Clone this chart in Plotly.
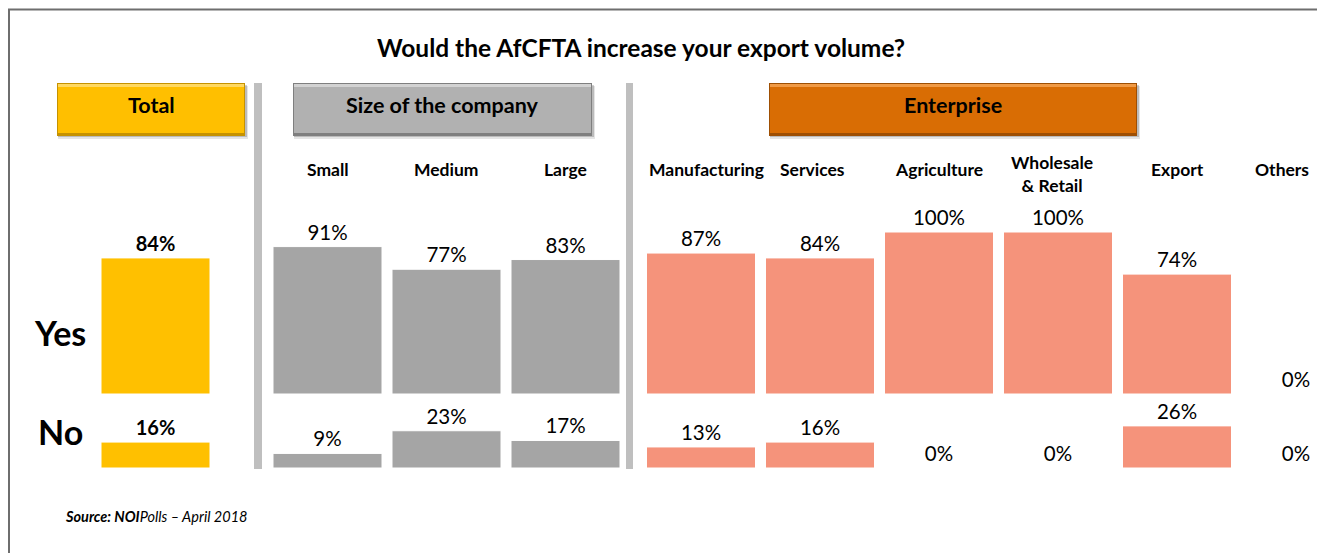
import plotly.graph_objects as go

# ---- survey results (percent) ----
total_cats = ["Total"]
total_yes = [84]
total_no = [16]

size_cats = ["Small", "Medium", "Large"]
size_yes = [91, 77, 83]
size_no = [9, 23, 17]

ent_cats = ["Manufacturing", "Services", "Agriculture", "Wholesale<br>& Retail", "Export", "Others"]
ent_yes = [87, 84, 100, 100, 74, 0]
ent_no = [13, 16, 0, 0, 26, 0]

# ---- canvas ----
W, H = 1317, 553
FONT = "Lato"


def px(x):
    return x / W


def py(y):
    return 1 - y / H


# vertical scale shared by both rows: 1.62 px per percent point
PPP = 1.62
YES_BASE, NO_BASE = 394, 468
YES_TOP, NO_TOP = 115, 30

# horizontal spacing: one category slot = 119 px, bar = 109 px
SLOT = 119
BARGAP = 1 - 109 / SLOT


def slot_domain(first_center, n):
    left = first_center - SLOT / 2
    right = left + n * SLOT
    return left, right


fig = go.Figure()

groups = [
    ("x", total_cats, total_yes, total_no, "#FFC000", True),
    ("x2", size_cats, size_yes, size_no, "#A5A5A5", False),
    ("x3", ent_cats, ent_yes, ent_no, "#F5937B", False),
]

for xa, cats, yes, no, color, bold in groups:
    tf = dict(family=FONT, size=20 if bold else 20.5, color="#000000",
              weight="bold" if bold else "normal")
    for yref, vals in (("y", yes), ("y2", no)):
        fig.add_trace(go.Bar(
            x=cats, y=vals, xaxis=xa, yaxis=yref,
            marker=dict(color=color, line=dict(color="#FFFFFF", width=1)),
            text=[f"{v}%" for v in vals], textposition="outside",
            textfont=tf, cliponaxis=False, showlegend=False,
            hoverinfo="skip",
        ))

# x axes for the three panels
l1, r1 = slot_domain(155.5, 1)
l2, r2 = slot_domain(327.5, 3)
l3, _ = slot_domain(701, 6)
ent_right = (W - l3) / SLOT - 0.5

axis_common = dict(showticklabels=False, showgrid=False, zeroline=False,
                   showline=False, ticks="", fixedrange=True)

fig.update_layout(
    width=W, height=H,
    margin=dict(l=0, r=0, t=0, b=0),
    paper_bgcolor="#FFFFFF", plot_bgcolor="rgba(0,0,0,0)",
    bargap=BARGAP,
    font=dict(family=FONT, color="#000000"),
    xaxis=dict(domain=[px(l1), px(r1)], range=[-0.5, 0.5], anchor="y",
               type="category", **axis_common),
    xaxis2=dict(domain=[px(l2), px(r2)], range=[-0.5, 2.5], anchor="y",
                type="category", **axis_common),
    xaxis3=dict(domain=[px(l3), 1], range=[-0.5, ent_right], anchor="y",
                type="category", **axis_common),
    yaxis=dict(domain=[py(YES_BASE), py(YES_BASE - YES_TOP * PPP)],
               range=[0, YES_TOP], anchor="x", **axis_common),
    yaxis2=dict(domain=[py(NO_BASE), py(NO_BASE - NO_TOP * PPP)],
                range=[0, NO_TOP], anchor="x", **axis_common),
)

shapes = []

# outer frame
shapes.append(dict(type="rect", xref="paper", yref="paper",
                   x0=px(9), x1=px(W + 20), y0=py(H + 20), y1=py(9.5),
                   line=dict(color="#6E6E6E", width=2), fillcolor="rgba(0,0,0,0)"))

# panel separators
for x0, x1 in ((254, 262), (626, 633)):
    shapes.append(dict(type="rect", xref="paper", yref="paper",
                       x0=px(x0), x1=px(x1), y0=py(469), y1=py(83),
                       line=dict(width=0), fillcolor="#BFBFBF"))


def rect(x0, x1, y0, y1, fill, opacity=1.0):
    return dict(type="rect", xref="paper", yref="paper",
                x0=px(x0), x1=px(x1), y0=py(y1), y1=py(y0),
                line=dict(width=0), fillcolor=fill, opacity=opacity)


# header buttons: soft shadow, dark rim, body, top highlight
headers = [
    ("Total", 57, 245, "#FFBF00", "#FFD860", "#C69200"),
    ("Size of the company", 293, 592, "#B1B1B1", "#D2D2D2", "#7F7F7F"),
    ("Enterprise", 769, 1137, "#D96D04", "#F09A45", "#9E4F03"),
]
annotations = []
for label, x0, x1, body, light, edge in headers:
    shapes.append(rect(x0 + 1, x1 + 3, 86, 139, "rgba(0,0,0,0.10)"))
    shapes.append(rect(x0 + 1, x1 + 2, 85, 137, "rgba(0,0,0,0.18)"))
    shapes.append(rect(x0, x1, 83, 136, edge))
    shapes.append(rect(x0 + 1, x1 - 1, 84, 133, body))
    shapes.append(rect(x0 + 1, x1 - 1, 84, 87, light))
    annotations.append(dict(text=f"<b>{label}</b>", xref="paper", yref="paper",
                            x=px((x0 + x1) / 2), y=py(105), showarrow=False,
                            xanchor="center", yanchor="middle",
                            font=dict(family=FONT, size=21.5, color="#000000")))

# category labels above the bars (small nudges keep neighbours apart)
label_nudge = {"Manufacturing": 5, "Services": -8, "Wholesale<br>& Retail": -6,
               "Others": -14}
for xa, cats in (("x2", size_cats), ("x3", ent_cats)):
    for c in cats:
        two_lines = "<br>" in c
        annotations.append(dict(text=f"<b>{c}</b>", xref=xa, yref="paper",
                                x=c, y=py(174 if two_lines else 169),
                                xshift=label_nudge.get(c, 0), showarrow=False,
                                xanchor="center", yanchor="middle",
                                font=dict(family=FONT, size=17.5, color="#000000")))

# title
annotations.append(dict(text="<b>Would the AfCFTA increase your export volume?</b>",
                        xref="paper", yref="paper", x=px(641), y=py(48),
                        showarrow=False, xanchor="center", yanchor="middle",
                        font=dict(family=FONT, size=24.5, color="#000000")))

# row labels
for txt, yc in (("Yes", 332), ("No", 431)):
    annotations.append(dict(text=f"<b>{txt}</b>", xref="paper", yref="paper",
                            x=px(60), y=py(yc), showarrow=False,
                            xanchor="center", yanchor="middle",
                            font=dict(family=FONT, size=34, color="#000000")))

# source note
annotations.append(dict(text="<b><i>Source: NOI</i></b><i>Polls – April 2018</i>",
                        xref="paper", yref="paper", x=px(63), y=py(516),
                        showarrow=False, xanchor="left", yanchor="middle",
                        font=dict(family=FONT, size=14.5, color="#000000")))

fig.update_layout(shapes=shapes, annotations=annotations)

fig.write_html("out.html")
